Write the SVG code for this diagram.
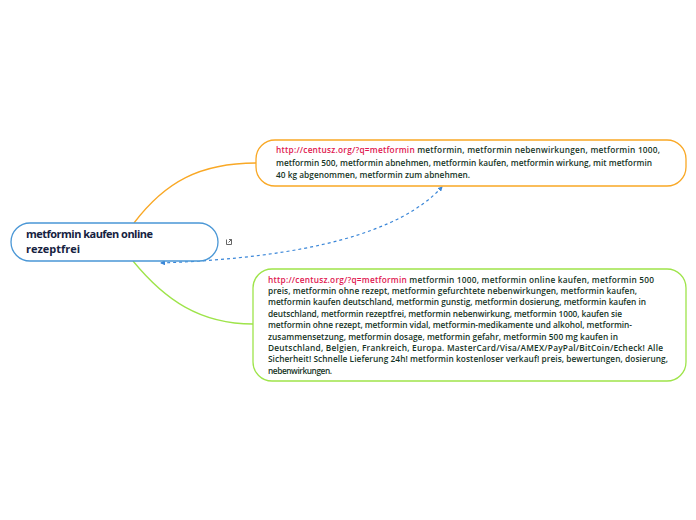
<svg xmlns="http://www.w3.org/2000/svg" width="696" height="520" viewBox="0 0 696 520">
<defs>
<marker id="arr" viewBox="0 0 10 10" refX="8" refY="5" markerWidth="5" markerHeight="5" orient="auto-start-reverse" markerUnits="userSpaceOnUse">
<path d="M0,0 L10,5 L0,10 z" fill="#3a86d8"/>
</marker>
<style>
.t{font-family:"Open Sans","Noto Sans",sans-serif;font-size:8.3px;font-weight:600;fill:#163526}
.u{fill:#e0174f}
.c{font-family:"Open Sans","Noto Sans",sans-serif;font-size:11px;font-weight:700;fill:#16223f}
.n{fill:#fff;stroke-width:1.3}
</style>
</defs>
<rect width="696" height="520" fill="#fff"/>
<g id="connectors" fill="none">
<path d="M134,223 C165,182 200,163 256,163" stroke="#f9a825" stroke-width="1.3"/>
<path d="M133,261 C165,300 200,324 253,324" stroke="#9ee44a" stroke-width="1.3"/>
<path d="M161,263 Q380,255 442,187" stroke="#3a86d8" stroke-width="1.2" stroke-dasharray="3,3" marker-start="url(#arr)" marker-end="url(#arr)"/>
</g>
<g id="central">
<rect class="n" x="11" y="223" width="207" height="38" rx="19" stroke="#4a97d6"/>
<text class="c" x="26" y="238" textLength="127" lengthAdjust="spacing">metformin kaufen online</text>
<text class="c" x="26" y="253">rezeptfrei</text>
</g>
<g id="icon" fill="none" stroke="#555" stroke-width="0.9">
<path d="M226.5,239.5 v5 h5 v-2.5"/>
<path d="M229,239.5 h2.5 v2.5 M231.5,239.5 l-3,3"/>
</g>
<g id="node-top">
<rect class="n" x="256" y="140" width="430" height="46" rx="19" stroke="#f9a825"/>
<text class="t" x="276" y="153" textLength="384" lengthAdjust="spacing"><tspan class="u">http://centusz.org/?q=metformin</tspan> metformin, metformin nebenwirkungen, metformin 1000,</text>
<text class="t" x="276" y="165.5" textLength="376" lengthAdjust="spacing">metformin 500, metformin abnehmen, metformin kaufen, metformin wirkung, mit metformin</text>
<text class="t" x="276" y="178" textLength="194" lengthAdjust="spacing">40 kg abgenommen, metformin zum abnehmen.</text>
</g>
<g id="node-bottom">
<rect class="n" x="253" y="269" width="433" height="112" rx="19" stroke="#9ee44a"/>
<text class="t" x="268" y="282.5" textLength="386" lengthAdjust="spacing"><tspan class="u">http://centusz.org/?q=metformin</tspan> metformin 1000, metformin online kaufen, metformin 500</text>
<text class="t" x="268" y="293.9" textLength="369" lengthAdjust="spacing">preis, metformin ohne rezept, metformin gefurchtete nebenwirkungen, metformin kaufen,</text>
<text class="t" x="268" y="305.3" textLength="378" lengthAdjust="spacing">metformin kaufen deutschland, metformin gunstig, metformin dosierung, metformin kaufen in</text>
<text class="t" x="268" y="316.7" textLength="354" lengthAdjust="spacing">deutschland, metformin rezeptfrei, metformin nebenwirkung, metformin 1000, kaufen sie</text>
<text class="t" x="268" y="328.1" textLength="364" lengthAdjust="spacing">metformin ohne rezept, metformin vidal, metformin-medikamente und alkohol, metformin-</text>
<text class="t" x="268" y="339.5" textLength="350" lengthAdjust="spacing">zusammensetzung, metformin dosage, metformin gefahr, metformin 500 mg kaufen in</text>
<text class="t" x="268" y="350.9" textLength="395" lengthAdjust="spacing">Deutschland, Belgien, Frankreich, Europa. MasterCard/Visa/AMEX/PayPal/BitCoin/Echeck! Alle</text>
<text class="t" x="268" y="362.3" textLength="400" lengthAdjust="spacing">Sicherheit! Schnelle Lieferung 24h! metformin kostenloser verkauf! preis, bewertungen, dosierung,</text>
<text class="t" x="268" y="373.7" textLength="64" lengthAdjust="spacing">nebenwirkungen.</text>
</g>
</svg>
